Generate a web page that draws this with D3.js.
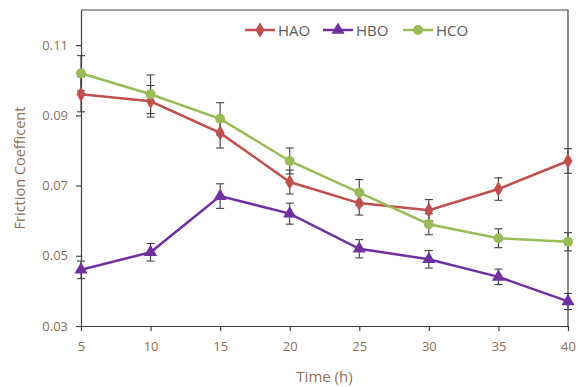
<!DOCTYPE html>
<html>
<head>
<meta charset="utf-8">
<script src="https://cdn.jsdelivr.net/npm/d3@7"></script>
<style>
  body { margin: 0; background: #fff; }
  svg { display: block; font-family: "Open Sans", sans-serif; }
</style>
</head>
<body>
<div id="chart"></div>
<script>
// values
const hours = [5, 10, 15, 20, 25, 30, 35, 40];
const hao = [0.096, 0.094, 0.085, 0.071, 0.065, 0.063, 0.069, 0.077];
const haoErr = [0.005, 0.0045, 0.0043, 0.0034, 0.0034, 0.003, 0.0032, 0.0035];
const hbo = [0.046, 0.051, 0.067, 0.062, 0.052, 0.049, 0.044, 0.037];
const hboErr = [0.0025, 0.0025, 0.0035, 0.003, 0.0026, 0.0025, 0.0022, 0.0023];
const hco = [0.102, 0.096, 0.089, 0.077, 0.068, 0.059, 0.055, 0.054];
const hcoErr = [0.005, 0.0055, 0.0046, 0.0037, 0.0037, 0.003, 0.0027, 0.0026];
const yTicks = [0.03, 0.05, 0.07, 0.09, 0.11];
const xTicks = [5, 10, 15, 20, 25, 30, 35, 40];

const series = [
  { name: 'HAO', values: hao, err: haoErr, color: '#c0504d', marker: d3.symbolDiamond, size: 70 },
  { name: 'HBO', values: hbo, err: hboErr, color: '#7030a0', marker: d3.symbolTriangle, size: 75 },
  { name: 'HCO', values: hco, err: hcoErr, color: '#9bbb59', marker: d3.symbolCircle, size: 78 }
];

const width = 583, height = 387;
const margin = { top: 10, right: 15, bottom: 61, left: 81 };
const innerW = width - margin.left - margin.right;
const innerH = height - margin.top - margin.bottom;
const labelColor = '#8f6f52';

const svg = d3.select('#chart').append('svg')
  .attr('width', width)
  .attr('height', height);

const g = svg.append('g')
  .attr('transform', `translate(${margin.left},${margin.top})`);

const x = d3.scaleLinear().domain([5, 40]).range([0, innerW]);
const y = d3.scaleLinear().domain([0.03, 0.12]).range([innerH, 0]);

// frame (top + right)
g.append('path')
  .attr('d', `M0,0H${innerW}V${innerH}`)
  .attr('fill', 'none')
  .attr('stroke', '#404040')
  .attr('stroke-width', 1.2);

const yAxis = g.append('g')
  .call(d3.axisLeft(y).tickValues(yTicks).tickFormat(d3.format('.2f')).tickSize(5).tickSizeOuter(0));
const xAxis = g.append('g')
  .attr('transform', `translate(0,${innerH})`)
  .call(d3.axisBottom(x).tickValues(xTicks).tickSize(5).tickSizeOuter(0));

[xAxis, yAxis].forEach(ax => {
  ax.select('.domain').attr('stroke', '#404040').attr('stroke-width', 1.2);
  ax.selectAll('.tick line').attr('stroke', '#404040').attr('stroke-width', 1.2);
  ax.selectAll('.tick text')
    .attr('fill', labelColor)
    .style('font-size', '13px')
    .style('font-family', '"Open Sans", sans-serif');
});
yAxis.selectAll('.tick text').attr('x', -13);
xAxis.selectAll('.tick text').attr('y', 16);

// error bars behind lines
const cap = 4;
series.forEach(s => {
  const eb = g.append('g').attr('stroke', '#404040').attr('stroke-width', 1.1);
  s.values.forEach((v, i) => {
    const cx = x(hours[i]);
    const y1 = y(v + s.err[i]), y2 = y(v - s.err[i]);
    eb.append('line').attr('x1', cx).attr('x2', cx).attr('y1', y1).attr('y2', y2);
    eb.append('line').attr('x1', cx - cap).attr('x2', cx + cap).attr('y1', y1).attr('y2', y1);
    eb.append('line').attr('x1', cx - cap).attr('x2', cx + cap).attr('y1', y2).attr('y2', y2);
  });
});

const line = d3.line().x((d, i) => x(hours[i])).y(d => y(d));

series.forEach(s => {
  g.append('path')
    .datum(s.values)
    .attr('d', line)
    .attr('fill', 'none')
    .attr('stroke', s.color)
    .attr('stroke-width', 2.5);

  g.selectAll(null)
    .data(s.values)
    .enter().append('path')
    .attr('d', d3.symbol().type(s.marker).size(s.size))
    .attr('transform', (d, i) => `translate(${x(hours[i])},${y(d)})`)
    .attr('fill', s.color);
});

// legend
const legendX = [245, 323, 403];
const legend = svg.append('g');
series.forEach((s, i) => {
  const lg = legend.append('g').attr('transform', `translate(${legendX[i]},30)`);
  lg.append('line').attr('x1', 0).attr('x2', 30).attr('stroke', s.color).attr('stroke-width', 2.5);
  lg.append('path')
    .attr('d', d3.symbol().type(s.marker).size(s.size))
    .attr('transform', 'translate(15,0)')
    .attr('fill', s.color);
  lg.append('text')
    .attr('x', 33)
    .attr('y', 5.5)
    .attr('fill', '#595959')
    .style('font-size', '15px')
    .text(s.name);
});

// axis titles
svg.append('text')
  .attr('transform', `translate(25,${margin.top + innerH / 2}) rotate(-90)`)
  .attr('text-anchor', 'middle')
  .attr('fill', labelColor)
  .style('font-size', '14.5px')
  .text('Friction Coefficent');

svg.append('text')
  .attr('x', margin.left + innerW / 2)
  .attr('y', 382)
  .attr('text-anchor', 'middle')
  .attr('fill', labelColor)
  .style('font-size', '15px')
  .text('Time (h)');
</script>
</body>
</html>
